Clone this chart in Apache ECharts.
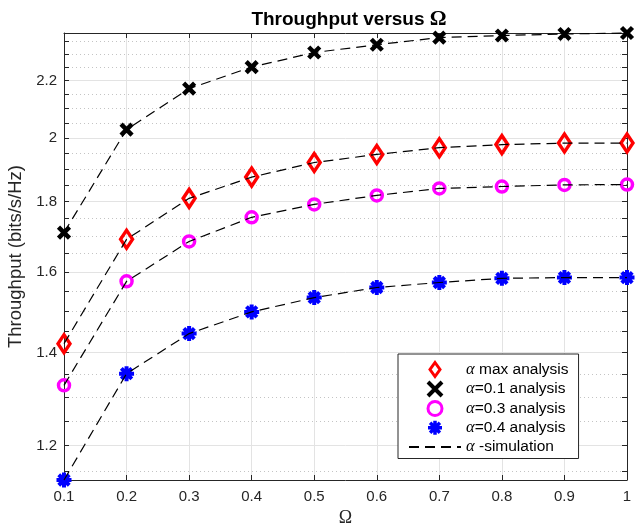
<!DOCTYPE html>
<html lang="en">
<head>
    <meta charset="UTF-8">
    <script src="https://cdn.jsdelivr.net/npm/echarts@6/dist/echarts.min.js"></script>
    <title>Throughput versus Omega</title>
</head>
<body style="margin: 0">

<div id="chart" style="width: 642px;height: 530px"></div>

<script type="text/javascript">
    // values (throughput in bits/s/Hz)
    var omega = [0.1, 0.2, 0.3, 0.4, 0.5, 0.6, 0.7, 0.8, 0.9, 1.0]

    var alphaMax = [1.421, 1.690, 1.809, 1.874, 1.920, 1.946, 1.968, 1.978, 1.983, 1.983]
    var alpha01 = [1.709, 2.028, 2.171, 2.250, 2.305, 2.335, 2.363, 2.371, 2.377, 2.381]
    var alpha03 = [1.326, 1.576, 1.684, 1.753, 1.791, 1.818, 1.839, 1.845, 1.850, 1.851]
    var alpha04 = [1.133, 1.352, 1.445, 1.498, 1.534, 1.560, 1.573, 1.584, 1.586, 1.586]

    var majorTicks = [1.2, 1.4, 1.6, 1.8, 2, 2.2]
    var minorTicks = [1.15, 1.25, 1.3, 1.35, 1.45, 1.5, 1.55, 1.65, 1.7, 1.75,
        1.85, 1.9, 1.95, 2.05, 2.1, 2.15, 2.25, 2.3, 2.35]

    var allY = alphaMax.concat(alpha01, alpha03, alpha04)
    var yMin = Math.min.apply(null, allY)
    var yMax = Math.max.apply(null, allY)

    function pairs(ys) {
        return omega.map(function (x, i) { return [x, ys[i]] })
    }

    var axisColor = '#262626'
    var sans = 'Liberation Sans'
    var serif = 'Liberation Serif'
    var clear = 'rgba(255,255,255,0)'

    var diamondPath = 'path://M5,0L10,7L5,14L0,7Z'
    var crossPath = 'path://M0,0L10,10M10,0L0,10'
    var starPath = 'path://M0,5L10,5M5,0L5,10M1.5,1.5L8.5,8.5M8.5,1.5L1.5,8.5'

    function marker(name, ys, symbol, size, color, fill, width) {
        return {
            name: name,
            type: 'scatter',
            data: pairs(ys),
            symbol: symbol,
            symbolSize: size,
            clip: false,
            z: 3,
            itemStyle: {color: fill, borderColor: color, borderWidth: width, opacity: 1}
        }
    }

    function dashed(ys) {
        return {
            name: 'α -simulation',
            type: 'line',
            data: pairs(ys),
            symbol: 'none',
            clip: false,
            z: 4,
            lineStyle: {color: '#000', width: 1.2, type: [10, 6]},
            itemStyle: {color: '#000'}
        }
    }

    var myChart = echarts.init(document.getElementById('chart'))

    var option = {
        animation: false,
        backgroundColor: '#fff',
        title: {
            text: '{a|Throughput versus }{b|Ω}',
            left: 344,
            textAlign: 'center',
            top: 4,
            textStyle: {
                rich: {
                    a: {fontFamily: sans, fontWeight: 'bold', fontSize: 19, color: '#000'},
                    b: {fontFamily: serif, fontSize: 21, color: '#000'}
                }
            }
        },
        grid: {left: 64, right: 15, top: 33, bottom: 50, containLabel: false, outerBoundsMode: 'none'},
        legend: {
            orient: 'vertical',
            left: 398,
            top: 354,
            padding: [7, 10, 3, 10],
            itemWidth: 52,
            itemHeight: 14,
            itemGap: 2,
            backgroundColor: '#fff',
            borderColor: axisColor,
            borderWidth: 1,
            data: [
                {name: 'α max analysis', icon: diamondPath, itemStyle: {color: clear, borderColor: '#ff0000', borderWidth: 3}},
                {name: 'α=0.1 analysis', icon: crossPath, itemStyle: {borderColor: '#000', borderWidth: 4}},
                {name: 'α=0.3 analysis', icon: 'circle', itemStyle: {color: clear, borderColor: '#ff00ff', borderWidth: 3}},
                {name: 'α=0.4 analysis', icon: starPath, itemStyle: {borderColor: '#0000ff', borderWidth: 3.5}},
                {name: 'α -simulation', itemStyle: {opacity: 0}}
            ],
            formatter: function (name) { return name.replace('α', '{g|α}') },
            textStyle: {
                fontFamily: sans, fontSize: 15.5, color: '#000', lineHeight: 14,
                rich: {g: {fontFamily: serif, fontStyle: 'italic', fontSize: 16.5, lineHeight: 14}}
            }
        },
        xAxis: [{
            type: 'value',
            position: 'bottom',
            min: 0.1,
            max: 1,
            interval: 0.1,
            name: 'Ω',
            nameLocation: 'middle',
            nameGap: 28,
            nameTextStyle: {fontFamily: serif, fontSize: 18, color: axisColor},
            axisLine: {lineStyle: {color: axisColor, width: 1}},
            axisTick: {inside: true, length: 5, lineStyle: {color: axisColor}},
            axisLabel: {
                margin: 9, fontSize: 15, fontFamily: sans, color: axisColor,
                formatter: function (v) { return +v.toFixed(1) + '' }
            },
            splitLine: {show: true, lineStyle: {color: '#e3e3e3', width: 1}}
        }, {
            type: 'value',
            position: 'top',
            min: 0.1,
            max: 1,
            interval: 0.1,
            axisLine: {lineStyle: {color: axisColor, width: 1}},
            axisTick: {inside: true, length: 5, lineStyle: {color: axisColor}},
            axisLabel: {show: false},
            splitLine: {show: false}
        }],
        yAxis: [{
            type: 'log',
            position: 'left',
            min: yMin,
            max: yMax,
            name: 'Throughput (bits/s/Hz)',
            nameLocation: 'middle',
            nameGap: 33,
            nameRotate: 90,
            nameTextStyle: {fontFamily: sans, fontSize: 18.5, color: axisColor},
            axisLine: {lineStyle: {color: axisColor, width: 1}},
            axisTick: {inside: true, length: 5, customValues: majorTicks, lineStyle: {color: axisColor}},
            axisLabel: {
                customValues: majorTicks, margin: 7, fontSize: 15, fontFamily: sans, color: axisColor,
                formatter: function (v) { return +(+v).toFixed(2) + '' }
            },
            splitLine: {show: true, lineStyle: {color: '#e3e3e3', width: 1}}
        }, {
            type: 'log',
            position: 'left',
            min: yMin,
            max: yMax,
            axisLine: {show: false},
            axisTick: {inside: true, length: 5, customValues: minorTicks, lineStyle: {color: axisColor}},
            axisLabel: {show: false, customValues: minorTicks},
            splitLine: {show: true, lineStyle: {color: '#c4c4c4', width: 1, type: [1, 3]}}
        }, {
            type: 'log',
            position: 'right',
            min: yMin,
            max: yMax,
            axisLine: {lineStyle: {color: axisColor, width: 1}},
            axisTick: {inside: true, length: 5, customValues: majorTicks.concat(minorTicks), lineStyle: {color: axisColor}},
            axisLabel: {show: false, customValues: majorTicks},
            splitLine: {show: false}
        }],
        series: [
            marker('α max analysis', alphaMax, 'diamond', [12, 18], '#ff0000', clear, 3.5),
            marker('α=0.1 analysis', alpha01, crossPath, 11, '#000000', '#000000', 4.5),
            marker('α=0.3 analysis', alpha03, 'circle', 11, '#ff00ff', clear, 3.5),
            marker('α=0.4 analysis', alpha04, starPath, 15, '#0000ff', '#0000ff', 4),
            dashed(alphaMax),
            dashed(alpha01),
            dashed(alpha03),
            dashed(alpha04)
        ]
    }

    myChart.setOption(option)
</script>
</body>
</html>
